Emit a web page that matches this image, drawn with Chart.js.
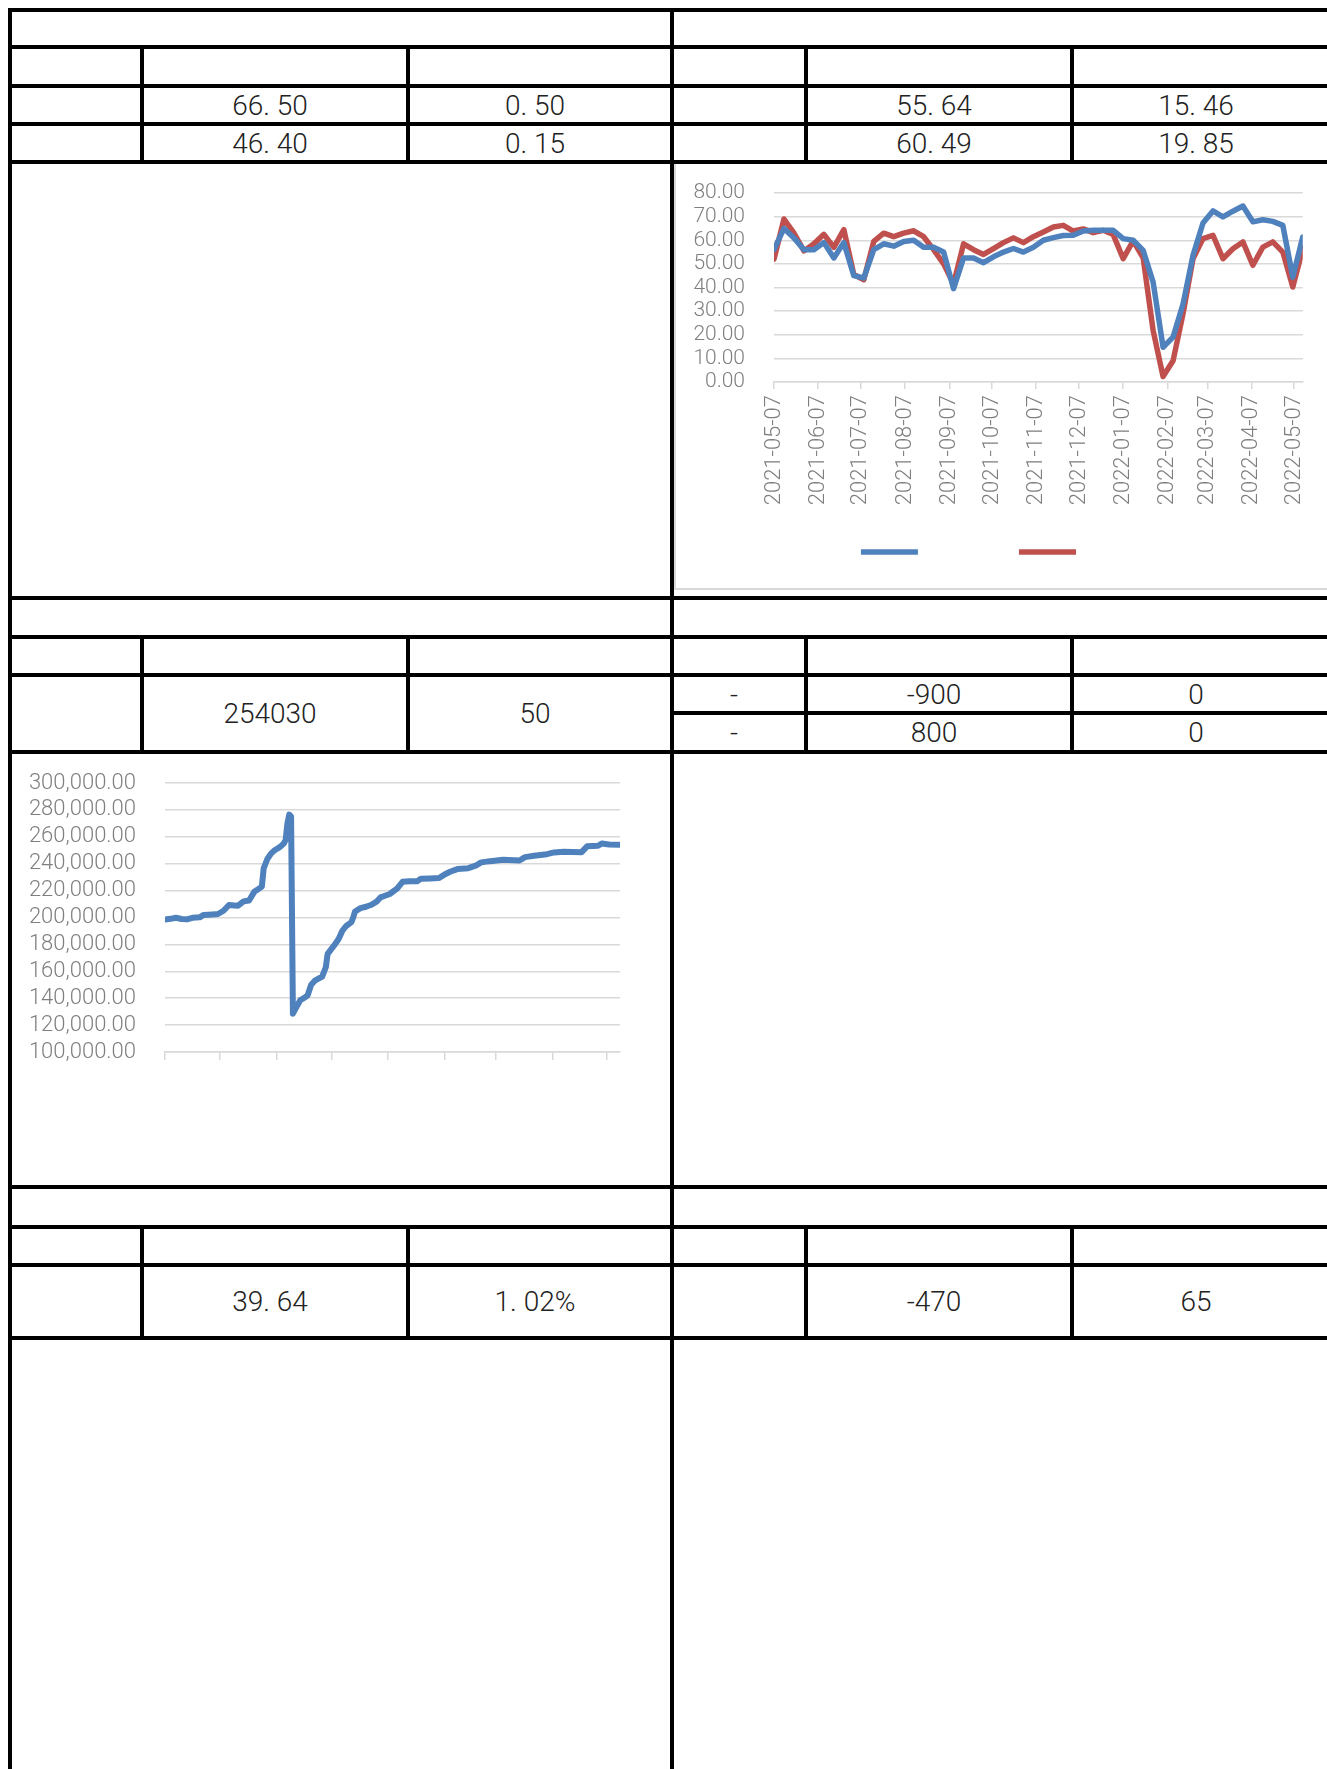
<!DOCTYPE html>
<html>
<head>
<meta charset="utf-8">
<script src="https://cdn.jsdelivr.net/npm/chart.js@4.4.1/dist/chart.umd.min.js"></script>
<style>
  html, body { margin: 0; padding: 0; background: #fff; }
  #page { position: relative; width: 1327px; height: 1769px; overflow: hidden; }
  .cell {
    position: absolute; box-sizing: border-box; border: 4px solid #000;
    display: flex; align-items: center; justify-content: center;
    padding-right: 10px;
    font-family: Roboto, "Noto Sans", sans-serif; font-weight: 300; font-size: 28px; color: #222;
  }
  .frame {
    position: absolute; left: 674px; top: 164px; width: 700px; height: 426px; box-sizing: border-box;
    border-left: 2px solid #d9d9d9; border-bottom: 2px solid #d9d9d9;
  }
  canvas { position: absolute; }
  #chartA { left: 646px; top: 164px; }
  #chartB { left: 12px; top: 754px; }
</style>
</head>
<body>
<div id="page">
  <div class="frame"></div>
  <canvas id="chartA" width="681" height="401"></canvas>
  <canvas id="chartB" width="658" height="430"></canvas>
</div>
<script>
// weekly series, top right chart
var weekDates = [
  '2021-05-07', '2021-05-14', '2021-05-21', '2021-05-28', '2021-06-04', '2021-06-11', '2021-06-18', '2021-06-25',
  '2021-07-02', '2021-07-09', '2021-07-16', '2021-07-23', '2021-07-30', '2021-08-06', '2021-08-13', '2021-08-20',
  '2021-08-27', '2021-09-03', '2021-09-10', '2021-09-17', '2021-09-24', '2021-10-01', '2021-10-08', '2021-10-15',
  '2021-10-22', '2021-10-29', '2021-11-05', '2021-11-12', '2021-11-19', '2021-11-26', '2021-12-03', '2021-12-10',
  '2021-12-17', '2021-12-24', '2021-12-31', '2022-01-07', '2022-01-14', '2022-01-21', '2022-01-28', '2022-02-04',
  '2022-02-11', '2022-02-18', '2022-02-25', '2022-03-04', '2022-03-11', '2022-03-18', '2022-03-25', '2022-04-01',
  '2022-04-08', '2022-04-15', '2022-04-22', '2022-04-29', '2022-05-06', '2022-05-13'
];
var blueValues = [
  56, 65, 61, 56, 56, 59, 52.5, 59, 45, 44, 56, 58.5, 57.5, 59.5, 60, 57, 57, 55, 39.5,
  52.5, 52.5, 50.5, 53, 55, 56.5, 55, 57, 60, 61.1, 62, 62.1, 63.9, 64.2, 64.2, 64.2,
  60.7, 60, 55.7, 42.3, 14.7, 19, 33, 53.6, 67.3, 72.4, 69.9, 72.3, 74.5, 67.8, 68.7,
  68, 66.3, 44.4, 61.4
];
var redValues = [
  52, 69, 63, 55.5, 58.5, 62.5, 57, 64.5, 45.5, 43.3, 59.5, 63, 61.5, 63, 64, 61.5, 56, 50, 41.5,
  58.5, 56, 54, 56.5, 59, 61, 59, 61.5, 63.5, 65.6, 66.3, 63.9, 64.8, 63.2, 64.2, 62.4,
  52.2, 59.7, 52.6, 21.8, 2.3, 9, 28.9, 52.2, 60.7, 62.1, 52.2, 56.4, 59.3, 49.4, 57.1,
  59.3, 55, 40.2, 56.4
];
var monthTicks = [
  '2021-05-07', '2021-06-07', '2021-07-07', '2021-08-07', '2021-09-07', '2021-10-07', '2021-11-07',
  '2021-12-07', '2022-01-07', '2022-02-07', '2022-03-07', '2022-04-07', '2022-05-07'
];

// daily series, lower left chart
var flowDates = [
  '2021-09-07', '2021-09-10', '2021-09-13', '2021-09-16', '2021-09-19', '2021-09-22', '2021-09-26', '2021-09-28',
  '2021-10-03', '2021-10-06', '2021-10-09', '2021-10-12', '2021-10-15', '2021-10-17', '2021-10-20', '2021-10-23',
  '2021-10-26', '2021-10-29', '2021-10-30', '2021-10-31', '2021-11-02', '2021-11-04', '2021-11-06', '2021-11-09',
  '2021-11-11', '2021-11-12', '2021-11-13', '2021-11-14', '2021-11-15', '2021-11-16', '2021-11-18', '2021-11-20',
  '2021-11-22', '2021-11-24', '2021-11-26', '2021-11-28', '2021-11-30', '2021-12-02', '2021-12-04', '2021-12-05',
  '2021-12-07', '2021-12-09', '2021-12-11', '2021-12-13', '2021-12-15', '2021-12-18', '2021-12-19', '2021-12-20',
  '2021-12-23', '2021-12-26', '2021-12-29', '2022-01-01', '2022-01-03', '2022-01-05', '2022-01-08', '2022-01-10',
  '2022-01-12', '2022-01-15', '2022-01-19', '2022-01-23', '2022-01-25', '2022-01-30', '2022-02-04', '2022-02-07',
  '2022-02-10', '2022-02-14', '2022-02-20', '2022-02-24', '2022-02-27', '2022-03-04', '2022-03-11', '2022-03-20',
  '2022-03-23', '2022-03-28', '2022-04-04', '2022-04-08', '2022-04-13', '2022-04-23', '2022-04-26', '2022-05-02',
  '2022-05-04', '2022-05-08', '2022-05-14'
];
var flowValues = [
  198500, 199000, 199800, 198900, 198600, 199800, 200100, 201800,
  202300, 202600, 205000, 209300, 209000, 208800, 212000, 212600,
  219400, 222000, 223000, 236500, 243500, 247500, 250000, 252500,
  255000, 257500, 270000, 276500, 275000, 128500, 133500, 138500,
  140000, 142000, 150000, 153000, 154500, 156000, 163000, 173000,
  176500, 180000, 184000, 190000, 193500, 196500, 200000, 204500,
  207000, 208000, 209500, 212000, 215000, 216000, 217500, 219500,
  221500, 226500, 227000, 227000, 228800, 229000, 229300, 232000,
  234000, 236000, 236700, 238500, 241000, 241900, 242900, 242400,
  244900, 245900, 247100, 248400, 248900, 248600, 252900, 253300,
  255000, 254300, 254000
];
var flowTicks = [
  '2021-09-07', '2021-10-07', '2021-11-07', '2021-12-07', '2022-01-07',
  '2022-02-07', '2022-03-07', '2022-04-07', '2022-05-07'
];

// table texts, one list per row
var rowA2 = ['', '66. 50', '0. 50', '', '55. 64', '15. 46'];
var rowA3 = ['', '46. 40', '0. 15', '', '60. 49', '19. 85'];
var rowB2 = ['', '254030', '50'];
var rowB2a = ['-', '-900', '0'];
var rowB2b = ['-', '800', '0'];
var rowC2 = ['', '39. 64', '1. 02%', '', '-470', '65'];

// table grid
var page = document.getElementById('page');
var colX = [10, 142, 408, 672, 806, 1072, 1330];

function cell(x0, y0, x1, y1, text) {
    var d = document.createElement('div');
    d.className = 'cell';
    d.style.left = (x0 - 2) + 'px';
    d.style.top = (y0 - 2) + 'px';
    d.style.width = (x1 - x0 + 4) + 'px';
    d.style.height = (y1 - y0 + 4) + 'px';
    d.textContent = text || '';
    page.insertBefore(d, page.firstChild);
}
function row(y0, y1, texts, from, to) {
    from = from || 0; to = to || 6;
    for (var i = from; i < to; i++) {
        cell(colX[i], y0, colX[i + 1], y1, texts ? texts[i - from] : '');
    }
}
function halves(y0, y1) {
    cell(colX[0], y0, colX[3], y1);
    cell(colX[3], y0, colX[6], y1);
}

halves(10, 47);
row(47, 86);
row(86, 124, rowA2);
row(124, 162, rowA3);
halves(162, 598);

halves(598, 637);
row(637, 675);
row(675, 752, rowB2, 0, 3);
row(675, 713, rowB2a, 3, 6);
row(713, 752, rowB2b, 3, 6);
halves(752, 1187);

halves(1187, 1227);
row(1227, 1265);
row(1265, 1338, rowC2);
halves(1338, 1800);

// charts
Chart.defaults.font.family = 'Roboto, "Noto Sans", sans-serif';
Chart.defaults.font.weight = 300;
Chart.defaults.color = '#7f7f7f';

function dayOf(s, start) {
    return (Date.parse(s) - Date.parse(start)) / 86400000;
}

var startA = weekDates[0];
var blueData = weekDates.map(function(d, i) { return {x: dayOf(d, startA), y: blueValues[i]}; });
var redData = weekDates.map(function(d, i) { return {x: dayOf(d, startA), y: redValues[i]}; });

// legend entries show no visible name in the picture, only the line swatch
var blankName = '\u2003\u2003\u2003\u2003\u2003\u2003\u2003\u2003\u2003';

new Chart(document.getElementById('chartA'), {
    type: 'line',
    data: {
        datasets: [{
            label: blankName,
            data: blueData,
            borderColor: '#4f81bd',
            backgroundColor: '#4f81bd',
            borderWidth: 5.5,
            borderCapStyle: 'round',
            borderJoinStyle: 'round',
            pointRadius: 0
        }, {
            label: blankName,
            data: redData,
            borderColor: '#c0504d',
            backgroundColor: '#c0504d',
            borderWidth: 5.5,
            borderCapStyle: 'round',
            borderJoinStyle: 'round',
            pointRadius: 0
        }]
    },
    options: {
        responsive: false,
        animation: false,
        layout: { padding: { top: 29, right: 24, left: 46, bottom: 0 } },
        plugins: {
            tooltip: { enabled: false },
            legend: {
                position: 'bottom',
                labels: {
                    usePointStyle: true,
                    pointStyle: 'line',
                    pointStyleWidth: 57,
                    boxHeight: 5,
                    padding: 43,
                    font: { size: 6 }
                }
            }
        },
        scales: {
            x: {
                type: 'linear',
                min: 0,
                max: dayOf(weekDates[weekDates.length - 1], startA),
                afterBuildTicks: function(axis) {
                    axis.ticks = monthTicks.map(function(t) { return {value: dayOf(t, startA)}; });
                },
                afterFit: function(axis) { axis.height = 124; },
                grid: { drawOnChartArea: false, tickLength: 7, color: '#d9d9d9', lineWidth: 1.5 },
                border: { color: '#d9d9d9', width: 1.5 },
                ticks: {
                    autoSkip: false,
                    minRotation: 90,
                    maxRotation: 90,
                    padding: 6,
                    font: { size: 22 },
                    callback: function(v, i) { return monthTicks[i]; }
                }
            },
            y: {
                min: 0,
                max: 80,
                afterFit: function(axis) { axis.width = 82; },
                grid: { color: '#d9d9d9', lineWidth: 1.5, drawTicks: true, tickLength: 26, tickColor: 'rgba(0,0,0,0)' },
                border: { display: false },
                ticks: {
                    autoSkip: false,
                    stepSize: 10,
                    padding: 3,
                    font: { size: 21 },
                    callback: function(v) { return v.toFixed(2); }
                }
            }
        }
    }
});

var startB = flowDates[0];
var flowData = flowDates.map(function(d, i) { return {x: dayOf(d, startB), y: flowValues[i]}; });

new Chart(document.getElementById('chartB'), {
    type: 'line',
    data: {
        datasets: [{
            label: '',
            data: flowData,
            borderColor: '#4f81bd',
            backgroundColor: '#4f81bd',
            borderWidth: 6,
            borderCapStyle: 'round',
            borderJoinStyle: 'round',
            pointRadius: 0
        }]
    },
    options: {
        responsive: false,
        animation: false,
        layout: { padding: { top: 29, right: 50, left: 0, bottom: 0 } },
        plugins: {
            tooltip: { enabled: false },
            legend: { display: false }
        },
        scales: {
            x: {
                type: 'linear',
                min: 0,
                max: dayOf(flowDates[flowDates.length - 1], startB),
                afterBuildTicks: function(axis) {
                    axis.ticks = flowTicks.map(function(t) { return {value: dayOf(t, startB)}; });
                },
                afterFit: function(axis) { axis.height = 132; },
                grid: { drawOnChartArea: false, tickLength: 8, color: '#d9d9d9', lineWidth: 1.5 },
                border: { color: '#d9d9d9', width: 1.5 },
                ticks: { display: false }
            },
            y: {
                min: 100000,
                max: 300000,
                afterFit: function(axis) { axis.width = 153; },
                grid: { color: '#d9d9d9', lineWidth: 1.5, drawTicks: true, tickLength: 26, tickColor: 'rgba(0,0,0,0)' },
                border: { display: false },
                ticks: {
                    autoSkip: false,
                    stepSize: 20000,
                    padding: 3,
                    font: { size: 22 },
                    callback: function(v) {
                        return v.toLocaleString('en-US', {minimumFractionDigits: 2, maximumFractionDigits: 2});
                    }
                }
            }
        }
    }
});
</script>
</body>
</html>
